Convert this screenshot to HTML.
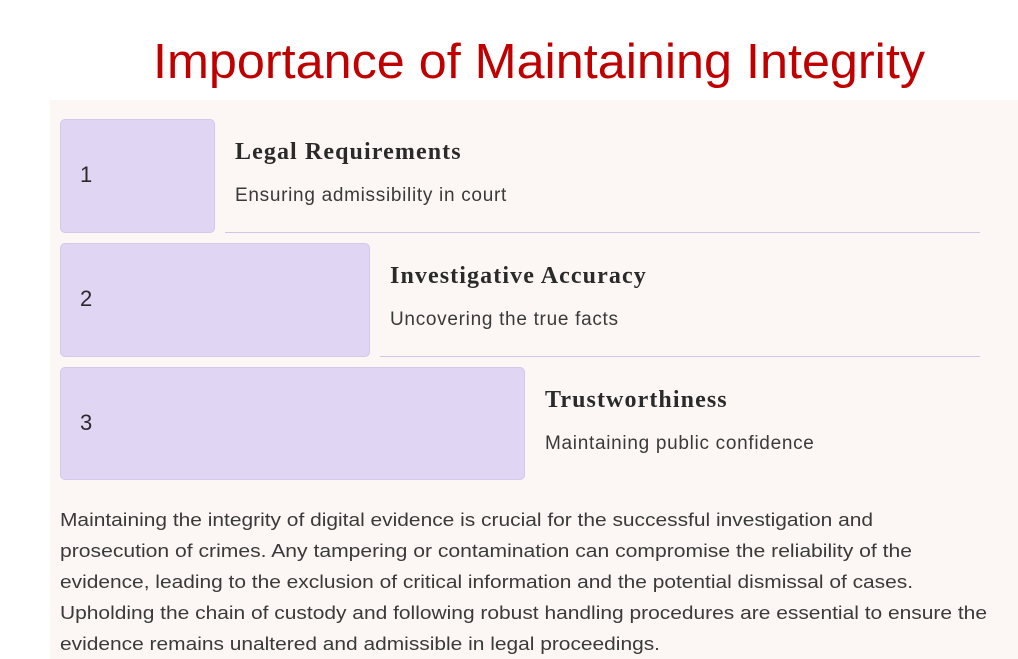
<!DOCTYPE html>
<html><head><meta charset="utf-8"><style>
body{margin:0;width:1018px;height:659px;overflow:hidden;background:#fff;font-family:"Liberation Sans",sans-serif;position:relative}
.a{position:absolute}
#title{left:153px;width:772px;top:22px;height:70px}
#panel{left:50px;top:100px;width:968px;height:559px;background:#fcf7f5}
.box{background:#e0d5f3;border:1px solid #d4c8ec;border-radius:5px;box-sizing:border-box}
.num{font-size:22px;color:#2a2a2a}
.t{font-family:"Liberation Serif",serif;font-weight:bold;font-size:24px;letter-spacing:1.1px;color:#2a2a2a;white-space:nowrap}
.d{font-size:19px;color:#3a3a3a;white-space:nowrap;letter-spacing:0.7px}
.ln{height:1px;background:#cfc6e6}
#para{left:0;top:500px}
</style></head><body>
<svg class="a" id="title" width="772" height="70"><text x="0" y="56" font-family="Liberation Sans, sans-serif" font-size="49" fill="#c00000" textLength="772" lengthAdjust="spacingAndGlyphs">Importance of Maintaining Integrity</text></svg>
<div class="a" id="panel"></div>
<div class="a box" style="left:60px;top:119px;width:155px;height:114px"></div>
<div class="a num" style="left:80px;top:162px">1</div>
<div class="a t" style="left:235px;top:139px">Legal Requirements</div>
<div class="a d" style="left:235px;top:185px">Ensuring admissibility in court</div>
<div class="a ln" style="left:225px;top:232px;width:755px"></div>
<div class="a box" style="left:60px;top:243px;width:310px;height:114px"></div>
<div class="a num" style="left:80px;top:286px">2</div>
<div class="a t" style="left:390px;top:263px">Investigative Accuracy</div>
<div class="a d" style="left:390px;top:309px">Uncovering the true facts</div>
<div class="a ln" style="left:380px;top:356px;width:600px"></div>
<div class="a box" style="left:60px;top:367px;width:465px;height:113px"></div>
<div class="a num" style="left:80px;top:410px">3</div>
<div class="a t" style="left:545px;top:387px">Trustworthiness</div>
<div class="a d" style="left:545px;top:433px">Maintaining public confidence</div>
<svg class="a" id="para" width="1018" height="159" font-family="Liberation Sans, sans-serif" font-size="18" fill="#3a3a3a">
<text x="60" y="26" textLength="813" lengthAdjust="spacingAndGlyphs">Maintaining the integrity of digital evidence is crucial for the successful investigation and</text>
<text x="60" y="57" textLength="852" lengthAdjust="spacingAndGlyphs">prosecution of crimes. Any tampering or contamination can compromise the reliability of the</text>
<text x="60" y="88" textLength="853" lengthAdjust="spacingAndGlyphs">evidence, leading to the exclusion of critical information and the potential dismissal of cases.</text>
<text x="60" y="119" textLength="927" lengthAdjust="spacingAndGlyphs">Upholding the chain of custody and following robust handling procedures are essential to ensure the</text>
<text x="60" y="150" textLength="600" lengthAdjust="spacingAndGlyphs">evidence remains unaltered and admissible in legal proceedings.</text>
</svg>
</body></html>
